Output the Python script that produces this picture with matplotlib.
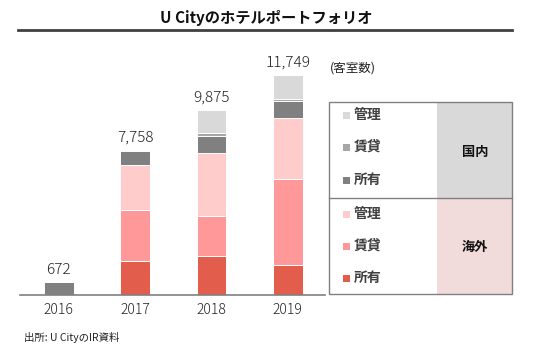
import matplotlib.pyplot as plt
from matplotlib.patches import Rectangle

plt.rcParams['font.family'] = ['Noto Sans CJK JP', 'DejaVu Sans']

years = ['2016', '2017', '2018', '2019']
totals = [672, 7758, 9875, 11749]

# 海外 (overseas)
ov_own = [0, 1800, 2066, 1620]
ov_lease = [0, 2730, 2136, 4557]
ov_manage = [0, 2400, 3400, 3293]
# 国内 (domestic)
dom_own = [672, 740, 908, 908]
dom_lease = [0, 88, 120, 89]
dom_manage = [0, 0, 1245, 1282]

series = [ov_own, ov_lease, ov_manage, dom_own, dom_lease, dom_manage]
colors = ['#E35D4C', '#FF9999', '#FFCCCC', '#808080', '#A6A6A6', '#D9D9D9']

W, H = 533, 353
fig = plt.figure(figsize=(W / 100, H / 100), dpi=100)

# chart area (pixel based placement)
ax = fig.add_axes([20 / W, (H - 295) / H, 305 / W, 240 / H])
x = range(len(years))
bottom = [0] * len(years)
for vals, c in zip(series, colors):
    ax.bar(x, vals, width=0.39, bottom=bottom, color=c, edgecolor='white', linewidth=0.7)
    bottom = [b + v for b, v in zip(bottom, vals)]

for i, t in enumerate(totals):
    ax.text(i, t + 280, f'{t:,}', ha='center', va='bottom', fontsize=11,
            fontweight='light', color='#222222')

ax.set_xlim(-0.51, 3.49)
ax.set_ylim(0, 12816)
ax.set_yticks([])
ax.set_xticks(list(x))
ax.set_xticklabels(years, fontsize=10, fontweight='light', color='#222222')
ax.tick_params(axis='x', length=0, pad=6)
for s in ['top', 'right', 'left']:
    ax.spines[s].set_visible(False)
ax.spines['bottom'].set_color('#808080')
ax.spines['bottom'].set_linewidth(1.2)

# overlay for title, legend box and notes
ov = fig.add_axes([0, 0, 1, 1], facecolor='none')
ov.set_xlim(0, W)
ov.set_ylim(H, 0)
ov.axis('off')

ov.text(266, 18, 'U Cityのホテルポートフォリオ', ha='center', va='center',
        fontsize=11, fontweight='bold', color='#111111')
ov.plot([18, 512], [30, 30], color='#404040', lw=2)

ov.text(330, 68, '(客室数)', ha='left', va='center', fontsize=9, color='#222222')
ov.text(24, 337, '出所: U CityのIR資料', ha='left', va='center', fontsize=7.5, color='#222222')

# legend table
ov.add_patch(Rectangle((437, 102), 75, 96, facecolor='#D9D9D9', edgecolor='none'))
ov.add_patch(Rectangle((437, 198), 75, 96, facecolor='#F2DCDB', edgecolor='none'))
ov.add_patch(Rectangle((329, 102), 183, 192, facecolor='none', edgecolor='#808080', lw=1))
ov.plot([329, 512], [198, 198], color='#808080', lw=1)
ov.text(475, 152, '国内', ha='center', va='center', fontsize=9.5, fontweight='bold', color='#111111')
ov.text(475, 247, '海外', ha='center', va='center', fontsize=9.5, fontweight='bold', color='#111111')

labels = ['管理', '賃貸', '所有']
dom_rows = [115, 147, 180]
ov_rows = [214, 246, 278]
for lab, y, c in zip(labels, dom_rows, ['#D9D9D9', '#A6A6A6', '#808080']):
    ov.add_patch(Rectangle((343, y - 3.5), 7, 7, facecolor=c, edgecolor='none'))
    ov.text(354, y, lab, ha='left', va='center', fontsize=10, fontweight='bold', color='#404040')
for lab, y, c in zip(labels, ov_rows, ['#FFCCCC', '#FF9999', '#E35D4C']):
    ov.add_patch(Rectangle((343, y - 3.5), 7, 7, facecolor=c, edgecolor='none'))
    ov.text(354, y, lab, ha='left', va='center', fontsize=10, fontweight='bold', color='#404040')

fig.savefig('out.png', dpi=100)
